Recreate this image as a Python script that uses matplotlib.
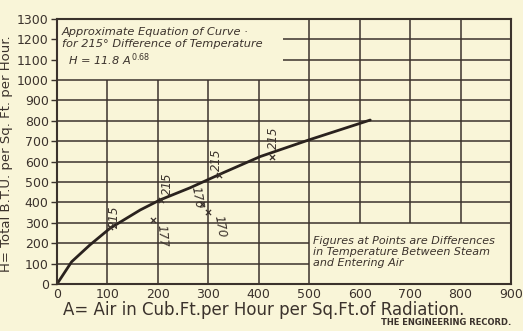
import numpy as np
import matplotlib.pyplot as plt

# curve (A = air, H = heat)
curve_a = [0, 29, 65, 105, 165, 204, 264, 330, 403, 500, 621]
curve_h = [0, 109, 191, 273, 363, 412, 472, 546, 625, 707, 804]

# observed points and the temperature difference written next to them
pt_a = [105, 191, 206, 288, 300, 322, 426]
pt_h = [278, 314, 414, 392, 352, 534, 624]
pt_lab = ['215', '177', '215', '170', '170', '215', '215']
# where each figure sits, relative to its point (data units)
lab_dx = [8, 17, 13, -10, 22, -6, 3]
lab_dy = [52, -80, 78, 30, -68, 76, 94]
lab_rot = [90, -85, 90, -80, -80, 90, 90]

xticks = np.arange(0, 1000, 100)
yticks = np.arange(0, 1400, 100)

bg = '#f9f5d8'
ink = '#3b322c'

fig = plt.figure(figsize=(5.23, 3.31), dpi=100, facecolor=bg)
ax = fig.add_axes([0.109, 0.142, 0.868, 0.801], facecolor=bg)
ax.set_xlim(0, 900)
ax.set_ylim(0, 1300)

# broken grid, as on the printed chart
for y in yticks[1:-1]:
    if y in (100, 200):
        ax.hlines(y, 0, 500, color=ink, lw=1.1)
    elif y in (1100, 1200):
        ax.hlines(y, 448, 900, color=ink, lw=1.1)
    else:
        ax.hlines(y, 0, 900, color=ink, lw=1.1)
for x in xticks[1:-1]:
    if x < 500:
        ax.vlines(x, 0, 1000, color=ink, lw=1.1)
    elif x == 500:
        ax.vlines(x, 0, 1300, color=ink, lw=1.1)
    else:
        ax.vlines(x, 300, 1300, color=ink, lw=1.1)

for s in ax.spines.values():
    s.set_color(ink)
    s.set_linewidth(1.5)

ax.plot(curve_a, curve_h, color='#2a221e', lw=2.0, solid_capstyle='round')
ax.scatter(pt_a, pt_h, marker='x', s=14, color=ink, lw=0.9, zorder=3)

for a, h, t, dx, dy, rot in zip(pt_a, pt_h, pt_lab, lab_dx, lab_dy, lab_rot):
    ax.text(a + dx, h + dy, t, rotation=rot, ha='center', va='center',
            fontsize=8.5, style='italic', color=ink)

ax.set_xticks(xticks)
ax.set_yticks(yticks)
ax.tick_params(axis='both', colors=ink, labelsize=9, length=4, width=1.0, pad=2)
ax.tick_params(axis='x', length=0, pad=3)

ax.set_xlabel('A= Air in Cub.Ft.per Hour per Sq.Ft.of Radiation.',
              fontsize=12, color=ink, labelpad=0, x=0.455)
ax.set_ylabel('H= Total B.T.U. per Sq. Ft. per Hour.', fontsize=9.5,
              color=ink, labelpad=3, y=0.49)

ax.text(10, 1236, 'Approximate Equation of Curve ·', fontsize=8.2,
        style='italic', color=ink, va='center')
ax.text(10, 1178, 'for 215° Difference of Temperature', fontsize=8.2,
        style='italic', color=ink, va='center')
ax.text(22, 1098, r'H = 11.8 A$^{\,0.68}$', fontsize=8.2, style='italic',
        color=ink, va='center')

ax.text(508, 157, 'Figures at Points are Differences\nin Temperature Between Steam\nand Entering Air',
        fontsize=8, style='italic', color=ink, va='center', linespacing=1.1)

fig.text(0.978, 0.012, 'THE ENGINEERING RECORD.', ha='right', va='bottom',
         fontsize=6, weight='bold', color=ink)

fig.savefig('out.png', dpi=100, facecolor=bg)
